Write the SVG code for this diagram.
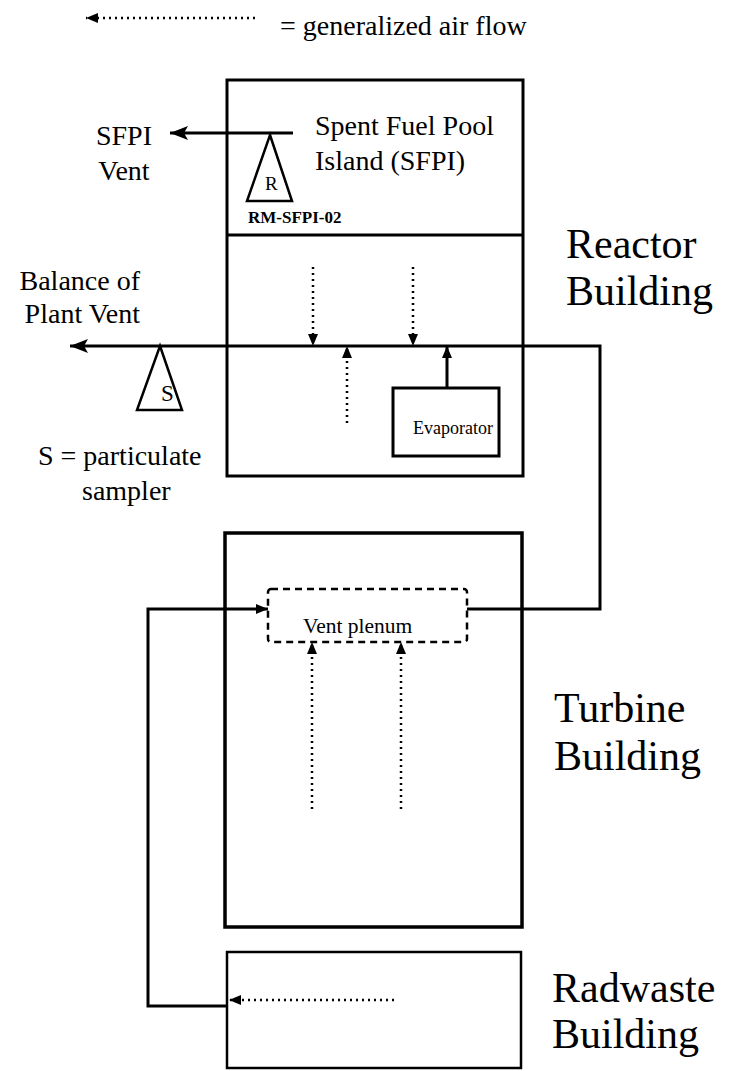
<svg xmlns="http://www.w3.org/2000/svg" width="732" height="1071" viewBox="0 0 732 1071">
<style>
  text { font-family: "Liberation Serif", "Times New Roman", serif; fill: #000; }
  .med { font-size: 28px; }
  .big { font-size: 42px; }
  .box { fill: #fff; stroke: #000; stroke-width: 3; }
  .solid { fill: none; stroke: #000; stroke-width: 3; }
  .dot { fill: none; stroke: #000; stroke-width: 2.5; stroke-dasharray: 2 4; }
  .dash { fill: none; stroke: #000; stroke-width: 2.5; stroke-dasharray: 7 5; }
  .tri { fill: #fff; stroke: #000; stroke-width: 2.5; stroke-linejoin: miter; }
</style>
<defs>
  <marker id="big" markerUnits="userSpaceOnUse" markerWidth="18" markerHeight="14" refX="18" refY="7" orient="auto">
    <path d="M0,0 L18,7 L0,14 L4,7 Z" fill="#000"/>
  </marker>
  <marker id="small" markerUnits="userSpaceOnUse" markerWidth="12" markerHeight="10" refX="12" refY="5" orient="auto">
    <path d="M0,0 L12,5 L0,10 Z" fill="#000"/>
  </marker>
</defs>

<g id="legend">
  <path class="dot" d="M255,18 H86" marker-end="url(#small)"/>
  <text class="med" x="280" y="35">= generalized air flow</text>
</g>

<g id="reactor-building">
  <rect class="box" x="227" y="80" width="296" height="396"/>
  <line class="solid" x1="227" y1="235" x2="523" y2="235"/>
  <text class="big" x="566" y="258">Reactor</text>
  <text class="big" x="566" y="305">Building</text>
</g>

<g id="sfpi">
  <text class="med" x="315" y="135">Spent Fuel Pool</text>
  <text class="med" x="315" y="170">Island (SFPI)</text>
</g>

<g id="sfpi-vent">
  <text class="med" x="124" y="145" text-anchor="middle">SFPI</text>
  <text class="med" x="124" y="180" text-anchor="middle">Vent</text>
</g>

<g id="rm-sfpi-02">
  <path class="tri" d="M270,135 L292,201 L247,201 Z"/>
  <text x="265" y="190" style="font-size:19px">R</text>
  <text x="248" y="223" style="font-size:17px;font-weight:bold">RM-SFPI-02</text>
</g>

<g id="balance-of-plant-vent">
  <text class="med" x="140" y="290" text-anchor="end">Balance of</text>
  <text class="med" x="140" y="323" text-anchor="end">Plant Vent</text>
</g>

<g id="sampler">
  <path class="tri" d="M160,346 L182,410 L137,410 Z"/>
  <text x="161" y="401" style="font-size:23px">S</text>
  <text class="med" x="38" y="465">S = particulate</text>
  <text class="med" x="82" y="500">sampler</text>
</g>

<g id="evaporator">
  <rect class="box" x="393" y="388" width="106" height="68"/>
  <text x="413" y="434" style="font-size:18px">Evaporator</text>
</g>

<g id="turbine-building">
  <rect class="box" x="225" y="533" width="297" height="394" style="stroke-width:3.5"/>
  <text class="big" x="554" y="722">Turbine</text>
  <text class="big" x="554" y="770">Building</text>
</g>

<g id="vent-plenum">
  <rect class="dash" x="268" y="589" width="199" height="53" rx="3"/>
  <text x="303" y="633" style="font-size:21.5px">Vent plenum</text>
</g>

<g id="radwaste-building">
  <rect class="box" x="227" y="952" width="294" height="116" style="stroke-width:2.5"/>
  <text class="big" x="552" y="1002">Radwaste</text>
  <text class="big" x="552" y="1048">Building</text>
</g>

<g id="connectors">
  <path class="solid" d="M293,133 H170" marker-end="url(#big)"/>
  <path class="solid" d="M467,609 H600 V346 H70" marker-end="url(#big)"/>
  <path class="solid" d="M227,1006 H148 V609 H268" marker-end="url(#small)"/>
  <path class="solid" d="M447,388 V346" marker-end="url(#small)"/>
  <path class="dot" d="M313,267 V346" marker-end="url(#small)"/>
  <path class="dot" d="M413,267 V346" marker-end="url(#small)"/>
  <path class="dot" d="M347,423 V346" marker-end="url(#small)"/>
  <path class="dot" d="M312,809 V642" marker-end="url(#small)"/>
  <path class="dot" d="M401,809 V642" marker-end="url(#small)"/>
  <path class="dot" d="M394,1000 H229" marker-end="url(#small)"/>
</g>
</svg>
